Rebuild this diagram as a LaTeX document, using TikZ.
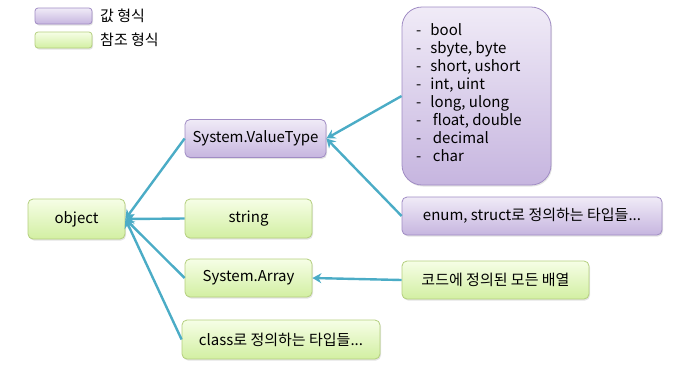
\documentclass[tikz,border=0pt]{standalone}
\usepackage{fontspec}
\setmainfont{Noto Sans CJK KR}
\usetikzlibrary{arrows.meta,shadows}
\definecolor{purptop}{HTML}{F0EBF7}
\definecolor{purpbot}{HTML}{C6B5DF}
\definecolor{purpbd}{HTML}{A08CC4}
\definecolor{greentop}{HTML}{F6FEE6}
\definecolor{greenbot}{HTML}{D2EFA2}
\definecolor{greenbd}{HTML}{B4CF7E}
\definecolor{arrcol}{HTML}{4BACC6}
\begin{document}
\begin{tikzpicture}[x=1pt,y=-1pt,
  basebox/.style={rounded corners=5pt, line width=0.8pt, inner sep=0pt,
    font=\fontsize{15}{17}\selectfont,
    drop shadow={opacity=0.22, shadow xshift=1pt, shadow yshift=-1.5pt}},
  vbox/.style={basebox, draw=purpbd, top color=purptop, bottom color=purpbot},
  rbox/.style={basebox, draw=greenbd, top color=greentop, bottom color=greenbot},
  conn/.style={draw=arrcol, line width=2.4pt,
    -{Stealth[length=9pt,width=10pt,inset=3pt]}},
  lbl/.style={anchor=west, inner sep=0pt, font=\fontsize{15}{17}\selectfont}
]
\useasboundingbox (0,0) rectangle (691,368);

% legend
\node[vbox, rounded corners=3pt, minimum width=57pt, minimum height=16pt] (lv) at (63.5,16) {};
\node[lbl] (lvt) at (100,16) {값 형식};
\node[rbox, rounded corners=3pt, minimum width=57pt, minimum height=16pt] (lr) at (63.5,40) {};
\node[lbl] (lrt) at (100,40) {참조 형식};

% main boxes
\node[rbox, minimum width=97pt, minimum height=40pt] (obj) at (76.5,219) {object};
\node[vbox, minimum width=141pt, minimum height=38pt] (vt) at (255.5,138.5) {System.ValueType};
\node[rbox, minimum width=127pt, minimum height=39pt] (str) at (248.5,218.5) {string};
\node[rbox, minimum width=127pt, minimum height=38pt] (arr) at (248.5,278) {System.Array};
\node[rbox, minimum width=198pt, minimum height=39pt] (cls) at (281,339.5) {class로 정의하는 타입들...};

\node[vbox, rounded corners=20pt, minimum width=149pt, minimum height=178pt] (big) at (476.5,96) {};
\node[anchor=west, inner sep=0pt, font=\fontsize{15}{18}\selectfont] (list) at (416,95)
  {\begin{tabular}{@{}l@{\hspace{9pt}}l@{}}
   - & bool\\
   - & sbyte, byte\\
   - & short, ushort\\
   - & int, uint\\
   - & long, ulong\\
   - & \,float, double\\
   - & \,decimal\\
   - & \,char
   \end{tabular}};
\node[vbox, minimum width=260pt, minimum height=38pt] (enm) at (532,216) {enum, struct로 정의하는 타입들...};
\node[rbox, minimum width=187pt, minimum height=38pt] (code) at (495.5,280) {코드에 정의된 모든 배열};

% connectors
\draw[conn] (vt.west) -- (obj.east);
\draw[conn] (str.west) -- (obj.east);
\draw[conn] (arr.west) -- (obj.east);
\draw[conn] (cls.west) -- (obj.east);
\draw[conn] (big.west) -- (vt.east);
\draw[conn] (enm.west) -- (vt.east);
\draw[conn] (code.west) -- (arr.east);
\end{tikzpicture}
\end{document}
